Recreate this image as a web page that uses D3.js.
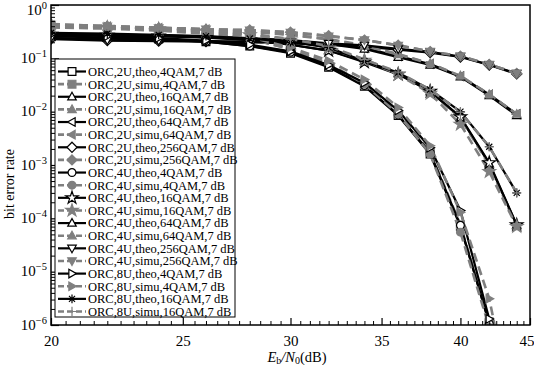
<!DOCTYPE html>
<html><head><meta charset="utf-8">
<script src="https://cdn.jsdelivr.net/npm/d3@7"></script>
<style>body{margin:0;background:#fff}svg{display:block}</style>
</head><body><svg id="c" width="534" height="365"></svg>
<script>
// ---------------- data ----------------
const ebn0 = [20,22,24,26,28,30,32,34,36,38,40,42,44];
const xTicks = [20,25,30,35,40,45];
const yTicks = [1e-6,1e-5,1e-4,1e-3,1e-2,1e-1,1];
const yTickExp = ["\u22126","\u22125","\u22124","\u22123","\u22122","\u22121","0"];

const ber_2U_theo_4QAM   = [0.26,0.245,0.23,0.205,0.17,0.125,0.068,0.030,8.5e-3,1.6e-3,7e-5,1.1e-6,1e-8];
const ber_2U_simu_4QAM   = [0.40,0.37,0.34,0.30,0.235,0.15,0.078,0.032,9e-3,1.8e-3,7.5e-5,1.15e-6,1e-8];
const ber_2U_theo_16QAM  = [0.29,0.28,0.265,0.25,0.225,0.18,0.14,0.088,0.052,0.024,7.8e-3,1.05e-3,7.5e-5];
const ber_2U_simu_16QAM  = [0.41,0.385,0.36,0.33,0.28,0.22,0.16,0.095,0.053,0.024,7.5e-3,1.0e-3,7e-5];
const ber_2U_theo_64QAM  = [0.29,0.28,0.27,0.255,0.24,0.22,0.19,0.155,0.11,0.078,0.046,0.021,9e-3];
const ber_2U_simu_64QAM  = [0.42,0.40,0.375,0.35,0.32,0.28,0.23,0.175,0.12,0.08,0.046,0.021,9e-3];
const ber_2U_theo_256QAM = [0.23,0.215,0.21,0.205,0.2,0.19,0.18,0.165,0.145,0.128,0.106,0.075,0.051];
const ber_2U_simu_256QAM = [0.44,0.40,0.37,0.35,0.34,0.31,0.265,0.22,0.176,0.134,0.11,0.077,0.052];
const ber_4U_theo_4QAM   = [0.24,0.235,0.225,0.205,0.17,0.13,0.07,0.031,8.7e-3,1.7e-3,7.4e-5,1.05e-6,1e-8];
const ber_4U_simu_4QAM   = [0.38,0.36,0.33,0.29,0.23,0.15,0.08,0.033,9e-3,1.6e-3,5.5e-5,9e-7,1e-8];
const ber_4U_theo_16QAM  = [0.28,0.27,0.26,0.245,0.22,0.18,0.14,0.085,0.05,0.024,8e-3,1.1e-3,7.5e-5];
const ber_4U_simu_16QAM  = [0.40,0.38,0.355,0.32,0.275,0.22,0.155,0.092,0.05,0.022,5.8e-3,7.5e-4,7e-5];
const ber_4U_theo_64QAM  = [0.28,0.27,0.26,0.25,0.235,0.215,0.185,0.15,0.105,0.075,0.045,0.02,8.5e-3];
const ber_4U_simu_64QAM  = [0.41,0.39,0.37,0.345,0.315,0.275,0.225,0.17,0.118,0.08,0.047,0.021,9e-3];
const ber_4U_theo_256QAM = [0.24,0.22,0.215,0.21,0.205,0.2,0.19,0.175,0.15,0.132,0.108,0.076,0.052];
const ber_4U_simu_256QAM = [0.43,0.40,0.37,0.35,0.335,0.305,0.26,0.22,0.175,0.134,0.11,0.077,0.052];
const ber_8U_theo_4QAM   = [0.28,0.26,0.24,0.215,0.18,0.135,0.075,0.035,0.0105,2.1e-3,1.4e-4,1.3e-6,1e-8];
const ber_8U_simu_4QAM   = [0.42,0.39,0.36,0.32,0.25,0.16,0.09,0.04,0.012,2.3e-3,1.3e-4,3.1e-6,1e-8];
const ber_8U_theo_16QAM  = [0.30,0.29,0.275,0.26,0.235,0.2,0.16,0.088,0.054,0.026,0.01,2.2e-3,3e-4];
const ber_8U_simu_16QAM  = [0.42,0.40,0.37,0.34,0.29,0.23,0.17,0.095,0.055,0.026,0.0098,2.2e-3,3e-4];

const seriesNames = [
 "ORC,2U,theo,4QAM,7 dB","ORC,2U,simu,4QAM,7 dB","ORC,2U,theo,16QAM,7 dB","ORC,2U,simu,16QAM,7 dB",
 "ORC,2U,theo,64QAM,7 dB","ORC,2U,simu,64QAM,7 dB","ORC,2U,theo,256QAM,7 dB","ORC,2U,simu,256QAM,7 dB",
 "ORC,4U,theo,4QAM,7 dB","ORC,4U,simu,4QAM,7 dB","ORC,4U,theo,16QAM,7 dB","ORC,4U,simu,16QAM,7 dB",
 "ORC,4U,theo,64QAM,7 dB","ORC,4U,simu,64QAM,7 dB","ORC,4U,theo,256QAM,7 dB","ORC,4U,simu,256QAM,7 dB",
 "ORC,8U,theo,4QAM,7 dB","ORC,8U,simu,4QAM,7 dB","ORC,8U,theo,16QAM,7 dB","ORC,8U,simu,16QAM,7 dB"];
const seriesValues = [ber_2U_theo_4QAM,ber_2U_simu_4QAM,ber_2U_theo_16QAM,ber_2U_simu_16QAM,
 ber_2U_theo_64QAM,ber_2U_simu_64QAM,ber_2U_theo_256QAM,ber_2U_simu_256QAM,
 ber_4U_theo_4QAM,ber_4U_simu_4QAM,ber_4U_theo_16QAM,ber_4U_simu_16QAM,
 ber_4U_theo_64QAM,ber_4U_simu_64QAM,ber_4U_theo_256QAM,ber_4U_simu_256QAM,
 ber_8U_theo_4QAM,ber_8U_simu_4QAM,ber_8U_theo_16QAM,ber_8U_simu_16QAM];
const seriesMarkers = ["square","square","triUp","triUp","triLeft","triLeft","diamond","diamond",
 "circle","circle","star","star","triUp","triUp","triDown","triDown","triRight","triRight","asterisk","plus"];

// ---------------- layout ----------------
const L=51,R=530,T=5,B=325;
const svg=d3.select("#c");
const x=d3.scaleLog().domain([20,45]).range([L,R]);
const y=d3.scaleLog().domain([1e-6,1]).range([B,T]);
const FONT="'Liberation Serif','Times New Roman',serif";
const GREY="#7f7f7f";

svg.append("defs").append("clipPath").attr("id","clip")
  .append("rect").attr("x",L).attr("y",T).attr("width",R-L).attr("height",B-T);

function mpath(type,r){
  const t=r*1.15;
  switch(type){
    case "square": return `M${-r},${-r}H${r}V${r}H${-r}Z`;
    case "circle": return d3.symbol(d3.symbolCircle,Math.PI*r*r)();
    case "diamond": {const d=r*1.3;return `M0,${-d}L${d},0L0,${d}L${-d},0Z`;}
    case "triUp": return `M0,${-t}L${t*0.95},${t*0.7}L${-t*0.95},${t*0.7}Z`;
    case "triDown": return `M0,${t}L${t*0.95},${-t*0.7}L${-t*0.95},${-t*0.7}Z`;
    case "triLeft": return `M${-t},0L${t*0.7},${-t*0.95}L${t*0.7},${t*0.95}Z`;
    case "triRight": return `M${t},0L${-t*0.7},${-t*0.95}L${-t*0.7},${t*0.95}Z`;
    case "star": return d3.symbol(d3.symbolStar,r*r*3.2)();
    case "asterisk": {const a=r*1.1,b=a*0.707;return `M${-a},0H${a}M0,${-a}V${a}M${-b},${-b}L${b},${b}M${-b},${b}L${b},${-b}`;}
    case "plus": {const a=r*1.2;return `M${-a},0H${a}M0,${-a}V${a}`;}
  }
}
function styleOf(i){
  const simu = i%2===1;
  return simu ? {stroke:GREY,width:2.6,dash:"9,5",fill:GREY,mstroke:GREY}
              : {stroke:"#000",width:2.2,dash:null,fill:"#fff",mstroke:"#000"};
}

const line=d3.line().x((d,i)=>x(ebn0[i])).y(d=>y(d));
const plot=svg.append("g").attr("clip-path","url(#clip)");

seriesValues.forEach((vals,i)=>{
  const s=styleOf(i);
  plot.append("path").attr("d",line(vals)).attr("fill","none")
    .attr("stroke",s.stroke).attr("stroke-width",s.width)
    .attr("stroke-dasharray",s.dash).attr("stroke-linejoin","round");
});
seriesValues.forEach((vals,i)=>{
  const s=styleOf(i);
  const m=seriesMarkers[i];
  const open=(m==="asterisk"||m==="plus");
  plot.selectAll(null).data(vals.map((v,k)=>[ebn0[k],v]).filter(d=>d[1]>=1e-6*0.9))
    .enter().append("path")
    .attr("transform",d=>`translate(${x(d[0])},${y(d[1])})`)
    .attr("d",mpath(m,3.9))
    .attr("fill",open?"none":s.fill).attr("stroke",s.mstroke).attr("stroke-width",1.2);
});

// ---------------- axes ----------------
const xMinor=d3.range(20,45.01,0.5).filter(v=>!xTicks.includes(v));
svg.append("g").attr("transform",`translate(0,${B})`)
  .call(d3.axisBottom(x).tickValues(xMinor).tickSize(-4).tickFormat(""))
  .call(g=>g.select(".domain").remove())
  .call(g=>g.selectAll("line").attr("stroke","#000").attr("stroke-width",1));
const xax=svg.append("g").attr("transform",`translate(0,${B})`)
  .call(d3.axisBottom(x).tickValues(xTicks).tickSize(-7).tickPadding(10).tickFormat(d3.format("d")))
  .call(g=>g.select(".domain").remove())
  .call(g=>g.selectAll("line").attr("stroke","#000").attr("stroke-width",1.2))
  .call(g=>g.selectAll("text").attr("font-family",FONT).attr("font-size",15).attr("fill","#000"));
xax.selectAll("text").filter(d=>d===45).attr("text-anchor","end").attr("dx",4);

const yMinor=[];
for(let e=-6;e<0;e++){for(let k=2;k<=9;k++)yMinor.push(k*Math.pow(10,e));}
svg.append("g").attr("transform",`translate(${L},0)`)
  .call(d3.axisLeft(y).tickValues(yMinor).tickSize(-4).tickFormat(""))
  .call(g=>g.select(".domain").remove())
  .call(g=>g.selectAll("line").attr("stroke","#000").attr("stroke-width",1));
svg.append("g").attr("transform",`translate(${L},0)`)
  .call(d3.axisLeft(y).tickValues(yTicks).tickSize(-8).tickFormat(""))
  .call(g=>g.select(".domain").remove())
  .call(g=>g.selectAll("line").attr("stroke","#000").attr("stroke-width",1.2));
yTicks.forEach((v,i)=>{
  const base = Math.max(y(v)+4.5, 14.5);
  const t=svg.append("text").attr("x",L-4).attr("y",base).attr("text-anchor","end")
    .attr("font-family",FONT).attr("font-size",15).attr("fill","#000");
  t.append("tspan").text("10");
  t.append("tspan").attr("font-size",10.5).attr("dy",-6).text(yTickExp[i]);
});

// frame
svg.append("rect").attr("x",L).attr("y",T).attr("width",R-L).attr("height",B-T)
  .attr("fill","none").attr("stroke","#000").attr("stroke-width",1.5);

// axis titles
svg.append("text").attr("transform",`translate(14,184) rotate(-90)`).attr("text-anchor","middle")
  .attr("font-family",FONT).attr("font-size",14).text("bit error rate");
const xt=svg.append("text").attr("x",297).attr("y",361.5).attr("text-anchor","middle")
  .attr("font-family",FONT).attr("font-size",14.5);
xt.append("tspan").attr("font-style","italic").text("E");
xt.append("tspan").attr("font-size",10).attr("dy","2.5").text("b");
xt.append("tspan").attr("dy","-2.5").attr("font-style","italic").text("/N");
xt.append("tspan").attr("font-size",10).attr("dy","2.5").text("0");
xt.append("tspan").attr("dy","-2.5").text("(dB)");

// ---------------- legend ----------------
const LX=55,LY=59,LW=180,LH=258;
const lg=svg.append("g");
lg.append("rect").attr("x",LX).attr("y",LY).attr("width",LW).attr("height",LH)
  .attr("fill","#fff").attr("stroke","#000").attr("stroke-width",1);
const ly=d3.scaleLinear().domain([0,seriesNames.length-1]).range([71.5,311.5]);
seriesNames.forEach((nm,i)=>{
  const s=styleOf(i), yy=ly(i);
  lg.append("line").attr("x1",58).attr("x2",86).attr("y1",yy).attr("y2",yy)
    .attr("stroke",s.stroke).attr("stroke-width",s.width).attr("stroke-dasharray",s.dash?"6,3":null);
  const m=seriesMarkers[i], open=(m==="asterisk"||m==="plus");
  lg.append("path").attr("transform",`translate(72,${yy})`).attr("d",mpath(m,3.9))
    .attr("fill",open?"none":s.fill).attr("stroke",s.mstroke).attr("stroke-width",1.2);
  lg.append("text").attr("x",88).attr("y",yy).attr("dy","0.35em")
    .attr("font-family",FONT).attr("font-size",12.5).attr("fill","#000").text(nm);
});
</script></body></html>
